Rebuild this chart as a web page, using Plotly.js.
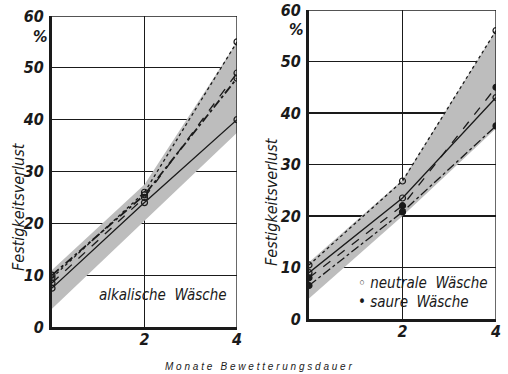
<!DOCTYPE html>
<html><head><meta charset="utf-8">
<script src="https://cdn.plot.ly/plotly-3.0.1.min.js"></script>
<style>html,body{margin:0;padding:0;background:#fff}#c{width:508px;height:374px}</style>
</head><body><div id="c"></div>
<script>
const months = [0, 2, 4];
const xTicks = [2, 4];
const yTicks = [0, 10, 20, 30, 40, 50, 60];
// alkalische Wäsche (left panel)
const alkBandLower = [3.5, 20.5, 37.5];
const alkBandUpper = [11, 27.5, 55];
const alkDotted = [9.5, 26, 55];
const alkDash = [8.5, 25, 49];
const alkDashDot = [10, 25.5, 48];
const alkSolid = [7.5, 24, 40];
// neutrale / saure Wäsche (right panel)
const nsBandLower = [4, 20, 37];
const nsBandUpper = [11, 27, 56];
const neutralDotted = [10.5, 26.8, 56];
const neutralSolid = [9, 23.5, 43];
const saureDash = [8, 22, 45];
const saureDashDot = [6.5, 20.8, 37.5];

const FONT = '"Liberation Sans Narrow", "DejaVu Sans Condensed", "Liberation Sans", Arial, sans-serif';
const band = '#bdbdbd';
const ink = '#1a1a1a';

function bandTraces(lower, upper, xa, ya) {
  return [
    {x: months, y: lower, xaxis: xa, yaxis: ya, mode: 'lines', line: {width: 0, color: band}, hoverinfo: 'skip', showlegend: false},
    {x: months, y: upper, xaxis: xa, yaxis: ya, mode: 'lines', fill: 'tonexty', fillcolor: band, line: {width: 0, color: band}, hoverinfo: 'skip', showlegend: false}
  ];
}
function line(y, dash, xa, ya, sym, w) {
  return {x: months, y: y, xaxis: xa, yaxis: ya, mode: 'lines+markers',
    line: {color: ink, width: w || 1.3, dash: dash},
    marker: {symbol: sym, size: 6, color: ink, line: {color: ink, width: 1.2}},
    showlegend: false};
}

const data = [
  ...bandTraces(alkBandLower, alkBandUpper, 'x', 'y'),
  line(alkDotted, 'dot', 'x', 'y', 'circle-open'),
  line(alkDash, 'dash', 'x', 'y', 'circle-open'),
  line(alkDashDot, 'dashdot', 'x', 'y', 'circle-open', 1.8),
  line(alkSolid, 'solid', 'x', 'y', 'circle-open'),
  ...bandTraces(nsBandLower, nsBandUpper, 'x2', 'y2'),
  line(neutralDotted, 'dot', 'x2', 'y2', 'circle-open'),
  line(neutralSolid, 'solid', 'x2', 'y2', 'circle-open'),
  line(saureDash, 'dash', 'x2', 'y2', 'circle'),
  line(saureDashDot, 'dashdot', 'x2', 'y2', 'circle')
];

const tickfont = {family: FONT, size: 16, color: ink, style: 'italic', weight: 'bold'};
function xax(dom, anchor) {
  return {domain: dom, anchor: anchor, range: [0, 4], tickmode: 'array', tickvals: xTicks, ticktext: xTicks.map(String),
    showgrid: true, gridcolor: ink, gridwidth: 1.3, zeroline: false, showline: true, linecolor: ink, linewidth: 3,
    ticks: '', ticklabelstandoff: -4, tickfont: tickfont, fixedrange: true};
}
function yax(dom, anchor) {
  return {domain: dom, anchor: anchor, range: [0, 60], tickmode: 'array', tickvals: yTicks, ticktext: yTicks.map(String),
    showgrid: true, gridcolor: ink, gridwidth: 1.3, zeroline: false, showline: true, linecolor: ink, linewidth: 3,
    ticks: '', ticklabelstandoff: 2, tickfont: tickfont, fixedrange: true};
}
function ann(x, y, text, font, extra) {
  return Object.assign({xref: 'paper', yref: 'paper', x: x / 508, y: 1 - y / 374, xanchor: 'center', yanchor: 'middle',
    text: text, showarrow: false, font: font}, extra || {});
}
const titleFont = {family: FONT, size: 16, color: ink, style: 'italic'};
const boldItal = {family: FONT, size: 16, color: ink, style: 'italic', weight: 'bold'};
const labFont = {family: FONT, size: 15, color: ink, style: 'italic'};

const layout = {
  width: 508, height: 374,
  margin: {l: 0, r: 0, t: 0, b: 0},
  paper_bgcolor: '#fff', plot_bgcolor: '#fff',
  showlegend: false,
  xaxis: xax([52/508, 237/508], 'y'),
  yaxis: yax([1 - 327/374, 1 - 16/374], 'x'),
  xaxis2: xax([309/508, 496/508], 'y2'),
  yaxis2: yax([1 - 319/374, 1 - 10/374], 'x2'),
  shapes: [
    {type: 'line', xref: 'x', yref: 'y', x0: 4, x1: 4, y0: 0, y1: 60, line: {color: ink, width: 1.3}},
    {type: 'line', xref: 'x', yref: 'y', x0: 0, x1: 4, y0: 60, y1: 60, line: {color: ink, width: 1.3}},
    {type: 'line', xref: 'x2', yref: 'y2', x0: 4, x1: 4, y0: 0, y1: 60, line: {color: ink, width: 1.3}},
    {type: 'line', xref: 'x2', yref: 'y2', x0: 0, x1: 4, y0: 60, y1: 60, line: {color: ink, width: 1.3}}
  ],
  annotations: [
    ann(18, 207, 'Festigkeitsverlust', titleFont, {textangle: -90}),
    ann(271, 202, 'Festigkeitsverlust', titleFont, {textangle: -90}),
    ann(40, 37, '%', boldItal),
    ann(296, 30, '%', boldItal),
    ann(163, 295, 'alkalische  Wäsche', labFont),
    ann(356, 283, '◦ neutrale  Wäsche', labFont, {xanchor: 'left'}),
    ann(356, 302, '• saure  Wäsche', labFont, {xanchor: 'left'}),
    ann(258, 366, 'M o n a t e   B e w e t t e r u n g s d a u e r',
      {family: '"Liberation Sans", Arial, sans-serif', size: 10, color: ink, style: 'italic'})
  ]
};

Plotly.newPlot('c', data, layout, {staticPlot: true, displayModeBar: false});
</script>
</body></html>
